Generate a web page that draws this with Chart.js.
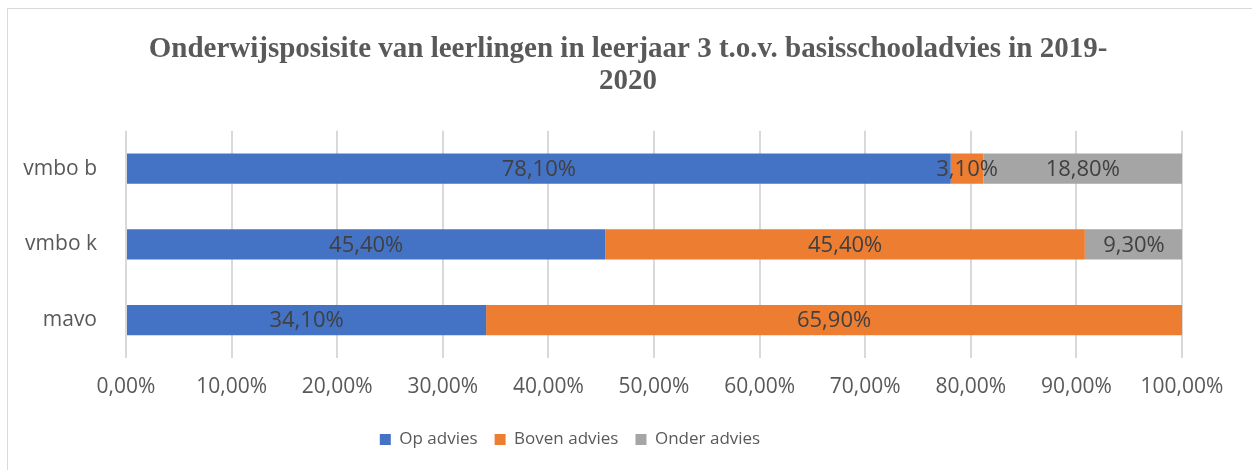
<!DOCTYPE html>
<html>
<head>
<meta charset="utf-8">
<script src="https://cdn.jsdelivr.net/npm/chart.js@4/dist/chart.umd.min.js"></script>
<style>
  html, body { margin: 0; padding: 0; background: #fff; overflow: hidden; }
  #frame {
    position: absolute; left: 7px; top: 8px; width: 1260px; height: 480px;
    border: 1px solid #d9d9d9; box-sizing: border-box;
  }
  #wrap { position: absolute; left: 8px; top: 9px; width: 1244px; height: 461px; }
</style>
</head>
<body>
<div id="frame"></div>
<div id="wrap"><canvas id="chart"></canvas></div>
<script>
// DATA
const categories = ['vmbo b', 'vmbo k', 'mavo'];
const opAdvies = [78.1, 45.4, 34.1];
const bovenAdvies = [3.1, 45.4, 65.9];
const onderAdvies = [18.8, 9.3, 0];
const xTicks = [0, 10, 20, 30, 40, 50, 60, 70, 80, 90, 100];

const pct = (v) => v.toFixed(2).replace('.', ',') + '%';

// labels in the middle of each segment
const barLabels = {
  id: 'barLabels',
  afterDatasetsDraw(chart) {
    const ctx = chart.ctx;
    ctx.save();
    ctx.font = '22px "Open Sans"';
    ctx.fillStyle = '#404040';
    ctx.textAlign = 'center';
    ctx.textBaseline = 'middle';
    chart.data.datasets.forEach((ds, i) => {
      chart.getDatasetMeta(i).data.forEach((bar, j) => {
        const v = ds.data[j];
        if (!v) return;
        const x = (bar.x + bar.base) / 2;
        ctx.fillText(pct(v), x, bar.y + 1);
      });
    });
    ctx.restore();
  },
};

// excel centres title and legend differently, nudge the boxes
const boxShift = {
  id: 'boxShift',
  afterLayout(chart) {
    chart.titleBlock.left += 33;
    chart.titleBlock.right += 33;
    chart.legend.left -= 25;
    chart.legend.right -= 25;
  },
};

const chart = new Chart(document.querySelector('#chart'), {
  type: 'bar',
  data: {
    labels: categories,
    datasets: [
      { label: 'Op advies', data: opAdvies, backgroundColor: '#4472C4' },
      { label: 'Boven advies', data: bovenAdvies, backgroundColor: '#ED7D31' },
      { label: 'Onder advies', data: onderAdvies, backgroundColor: '#A5A5A5' },
    ],
  },
  options: {
    indexAxis: 'y',
    responsive: true,
    maintainAspectRatio: false,
    animation: false,
    datasets: {
      bar: { barPercentage: 0.8, categoryPercentage: 0.5 },
    },
    layout: { padding: { left: 0, right: 70, top: 4, bottom: 12 } },
    plugins: {
      title: {
        display: true,
        text: [
          'Onderwijsposisite van leerlingen in leerjaar 3 t.o.v. basisschooladvies in 2019-',
          '2020',
        ],
        color: '#595959',
        font: { family: '"Liberation Serif", "Times New Roman", serif', size: 29, weight: 'bold', lineHeight: 1.1 },
        padding: { top: 21, bottom: 33 },
      },
      legend: {
        position: 'bottom',
        labels: {
          color: '#595959',
          font: { family: '"Open Sans"', size: 17 },
          boxWidth: 11,
          boxHeight: 11,
          padding: 17,
          useBorderRadius: false,
        },
      },
      tooltip: { enabled: false },
    },
    scales: {
      x: {
        stacked: true,
        min: 0,
        max: 100,
        afterBuildTicks: (axis) => {
          axis.ticks = xTicks.map((v) => ({ value: v }));
        },
        afterFit: (axis) => {
          axis.height = 56;
        },
        ticks: {
          color: '#595959',
          font: { family: '"Open Sans"', size: 21 },
          padding: 16,
          callback: (v) => pct(v),
          maxRotation: 0,
        },
        grid: { color: '#d9d9d9', lineWidth: 2, drawTicks: false },
        border: { display: false },
      },
      y: {
        stacked: true,
        afterFit: (axis) => {
          axis.width = 118;
        },
        ticks: {
          color: '#595959',
          font: { family: '"Open Sans"', size: 21 },
          padding: 29,
        },
        grid: { display: false, drawTicks: false },
        border: { display: false },
      },
    },
  },
  plugins: [barLabels, boxShift],
});
</script>
</body>
</html>
